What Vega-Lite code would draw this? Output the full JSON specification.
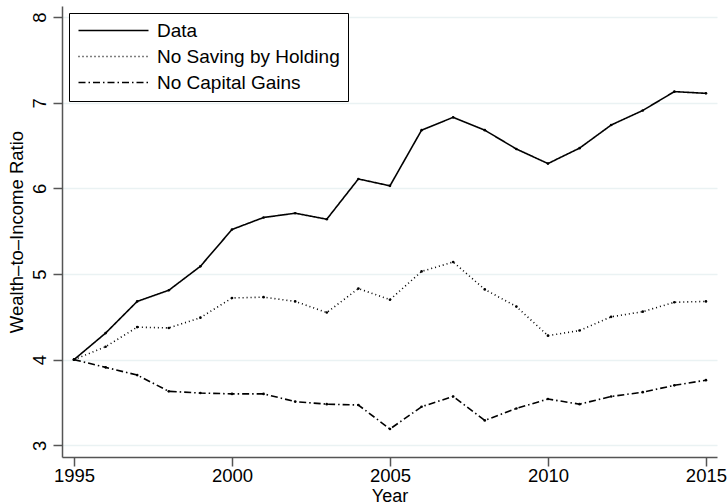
{
  "$schema": "https://vega.github.io/schema/vega-lite/v6.json",
  "width": 655,
  "height": 451,
  "autosize": "none",
  "padding": {"left": 62, "top": 6, "right": 10, "bottom": 47},
  "background": "white",
  "config": {
    "font": "Liberation Sans",
    "view": {"stroke": null},
    "axis": {"labelColor": "#000", "titleColor": "#000", "domainColor": "#555", "tickColor": "#555", "labelFont": "Liberation Sans", "titleFont": "Liberation Sans", "titleFontWeight": "normal"}
  },
  "data": {"values": [
    {"year": 1995, "series": "Data", "value": 4.00},
    {"year": 1996, "series": "Data", "value": 4.31},
    {"year": 1997, "series": "Data", "value": 4.68},
    {"year": 1998, "series": "Data", "value": 4.81},
    {"year": 1999, "series": "Data", "value": 5.09},
    {"year": 2000, "series": "Data", "value": 5.52},
    {"year": 2001, "series": "Data", "value": 5.66},
    {"year": 2002, "series": "Data", "value": 5.71},
    {"year": 2003, "series": "Data", "value": 5.64},
    {"year": 2004, "series": "Data", "value": 6.11},
    {"year": 2005, "series": "Data", "value": 6.03},
    {"year": 2006, "series": "Data", "value": 6.68},
    {"year": 2007, "series": "Data", "value": 6.83},
    {"year": 2008, "series": "Data", "value": 6.68},
    {"year": 2009, "series": "Data", "value": 6.46},
    {"year": 2010, "series": "Data", "value": 6.29},
    {"year": 2011, "series": "Data", "value": 6.47},
    {"year": 2012, "series": "Data", "value": 6.74},
    {"year": 2013, "series": "Data", "value": 6.91},
    {"year": 2014, "series": "Data", "value": 7.13},
    {"year": 2015, "series": "Data", "value": 7.11},
    {"year": 1995, "series": "No Saving by Holding", "value": 4.00},
    {"year": 1996, "series": "No Saving by Holding", "value": 4.15},
    {"year": 1997, "series": "No Saving by Holding", "value": 4.38},
    {"year": 1998, "series": "No Saving by Holding", "value": 4.37},
    {"year": 1999, "series": "No Saving by Holding", "value": 4.49},
    {"year": 2000, "series": "No Saving by Holding", "value": 4.72},
    {"year": 2001, "series": "No Saving by Holding", "value": 4.73},
    {"year": 2002, "series": "No Saving by Holding", "value": 4.68},
    {"year": 2003, "series": "No Saving by Holding", "value": 4.55},
    {"year": 2004, "series": "No Saving by Holding", "value": 4.83},
    {"year": 2005, "series": "No Saving by Holding", "value": 4.70},
    {"year": 2006, "series": "No Saving by Holding", "value": 5.03},
    {"year": 2007, "series": "No Saving by Holding", "value": 5.14},
    {"year": 2008, "series": "No Saving by Holding", "value": 4.82},
    {"year": 2009, "series": "No Saving by Holding", "value": 4.62},
    {"year": 2010, "series": "No Saving by Holding", "value": 4.28},
    {"year": 2011, "series": "No Saving by Holding", "value": 4.34},
    {"year": 2012, "series": "No Saving by Holding", "value": 4.50},
    {"year": 2013, "series": "No Saving by Holding", "value": 4.56},
    {"year": 2014, "series": "No Saving by Holding", "value": 4.67},
    {"year": 2015, "series": "No Saving by Holding", "value": 4.68},
    {"year": 1995, "series": "No Capital Gains", "value": 4.00},
    {"year": 1996, "series": "No Capital Gains", "value": 3.91},
    {"year": 1997, "series": "No Capital Gains", "value": 3.82},
    {"year": 1998, "series": "No Capital Gains", "value": 3.63},
    {"year": 1999, "series": "No Capital Gains", "value": 3.61},
    {"year": 2000, "series": "No Capital Gains", "value": 3.60},
    {"year": 2001, "series": "No Capital Gains", "value": 3.60},
    {"year": 2002, "series": "No Capital Gains", "value": 3.51},
    {"year": 2003, "series": "No Capital Gains", "value": 3.48},
    {"year": 2004, "series": "No Capital Gains", "value": 3.47},
    {"year": 2005, "series": "No Capital Gains", "value": 3.19},
    {"year": 2006, "series": "No Capital Gains", "value": 3.45},
    {"year": 2007, "series": "No Capital Gains", "value": 3.57},
    {"year": 2008, "series": "No Capital Gains", "value": 3.29},
    {"year": 2009, "series": "No Capital Gains", "value": 3.43},
    {"year": 2010, "series": "No Capital Gains", "value": 3.54},
    {"year": 2011, "series": "No Capital Gains", "value": 3.48},
    {"year": 2012, "series": "No Capital Gains", "value": 3.57},
    {"year": 2013, "series": "No Capital Gains", "value": 3.62},
    {"year": 2014, "series": "No Capital Gains", "value": 3.70},
    {"year": 2015, "series": "No Capital Gains", "value": 3.76}
  ]},
  "encoding": {
    "x": {"field": "year", "type": "quantitative",
      "scale": {"domain": [1994.62, 2015.35], "nice": false, "zero": false},
      "axis": {"values": [1995, 2000, 2005, 2010, 2015], "format": "d", "grid": false, "tickSize": 9, "labelFontSize": 18.5, "labelPadding": 0, "title": "Year", "titleFontSize": 18, "titlePadding": 2.5, "labelFlush": false, "domainWidth": 1.5, "tickWidth": 1.5}},
    "y": {"field": "value", "type": "quantitative",
      "scale": {"domain": [2.863, 8.13], "nice": false, "zero": false},
      "axis": {"values": [3, 4, 5, 6, 7, 8], "grid": true, "gridColor": "#eaf2f3", "gridWidth": 1.5, "tickSize": 9, "labelFontSize": 18.5, "labelAngle": 270, "labelAlign": "center", "labelBaseline": "bottom", "labelPadding": 4, "title": "Wealth–to–Income Ratio", "titleFontSize": 18.5, "titlePadding": 4, "labelFlush": false, "domainWidth": 1.5, "tickWidth": 1.5}}
  },
  "layer": [
    {
      "mark": {"type": "line", "color": "black", "strokeWidth": 1.6},
      "encoding": {
        "strokeDash": {"field": "series", "type": "nominal",
          "scale": {"domain": ["Data", "No Saving by Holding", "No Capital Gains"], "range": [[1, 0], [1, 3], [7, 3, 1.5, 3]]},
          "legend": {"title": null, "orient": "none", "legendX": 7, "legendY": 7, "symbolType": "M-1.6,0L12.4,0", "symbolSize": 100, "symbolStrokeWidth": 1.6, "symbolStrokeColor": "black", "symbolFillColor": "transparent", "labelFontSize": 19, "labelFont": "Liberation Sans", "labelColor": "#000", "labelOffset": 61, "padding": 8, "rowPadding": 6, "strokeColor": "#000", "fillColor": "white", "labelLimit": 400}}
      }
    },
    {
      "mark": {"type": "point", "filled": true, "color": "black", "size": 7, "opacity": 1},
      "encoding": {"detail": {"field": "series"}}
    }
  ]
}
